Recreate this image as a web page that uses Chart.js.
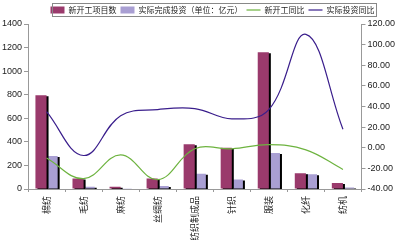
<!DOCTYPE html>
<html>
<head>
<meta charset="utf-8">
<script src="https://cdn.jsdelivr.net/npm/chart.js@4/dist/chart.umd.min.js"></script>
<style>
  html, body { margin: 0; padding: 0; background: #fff; }
  #wrap { width: 401px; height: 240px; }
</style>
</head>
<body>
<div id="wrap"><canvas id="chart" width="401" height="240"></canvas></div>
<script>
const categories = ['棉纺', '毛纺', '麻纺', '丝绸纺', '纺织制成品', '针织', '服装', '化纤', '纺机'];
const newProjects = [795, 90, 20, 90, 380, 350, 1160, 133, 50];
const investment = [280, 20, 3, 25, 130, 80, 305, 125, 12];
const newProjectsYoY = [-10, -30, -7, -31, -1, -1, 3, -2, -21];
const investmentYoY = [35, -7.5, 31, 37, 38, 28, 37, 110, 18];

const tickFont = { family: 'Liberation Sans, Arial, sans-serif', size: 9 };
const legendShift = 14;

// black shadow on the right side of each bar
const barShadow = {
  id: 'barShadow',
  beforeDatasetDraw(chart, args) {
    if (chart.data.datasets[args.index].type === 'bar') {
      const ctx = chart.ctx;
      ctx.save();
      ctx.shadowColor = '#000';
      ctx.shadowOffsetX = 2;
      ctx.shadowOffsetY = 1;
      ctx.shadowBlur = 0;
    }
  },
  afterDatasetDraw(chart, args) {
    if (chart.data.datasets[args.index].type === 'bar') chart.ctx.restore();
  }
};

// move the legend a little right and put a thin box round it
const legendBox = {
  id: 'legendBox',
  afterLayout(chart) {
    chart.legend.left += legendShift;
    chart.legend.right += legendShift;
  },
  afterDraw(chart) {
    const lg = chart.legend;
    const rowW = lg.lineWidths ? lg.lineWidths[0] : 0;
    const left = lg.left + (lg.width - rowW) / 2 + 3;
    const right = left + rowW - 4;
    const top = lg.top + 1;
    const bottom = top + 13;
    const ctx = chart.ctx;
    ctx.save();
    ctx.strokeStyle = '#888';
    ctx.lineWidth = 1;
    ctx.strokeRect(Math.round(left) + 0.5, Math.round(top) + 0.5, Math.round(right - left), Math.round(bottom - top));
    ctx.restore();
  }
};

new Chart(document.getElementById('chart'), {
  data: {
    labels: categories,
    datasets: [
      {
        type: 'bar', label: '新开工项目数', data: newProjects, yAxisID: 'y',
        backgroundColor: '#9A3A6C', pointStyle: 'rect', order: 2,
        barPercentage: 1, categoryPercentage: 0.6
      },
      {
        type: 'bar', label: '实际完成投资（单位：亿元）', data: investment, yAxisID: 'y',
        backgroundColor: '#A99FD3', pointStyle: 'rect', order: 2,
        barPercentage: 1, categoryPercentage: 0.6
      },
      {
        type: 'line', label: '新开工同比', data: newProjectsYoY, yAxisID: 'y1',
        borderColor: '#6DB33F', backgroundColor: '#6DB33F', borderWidth: 1.2,
        pointRadius: 0, tension: 0.4, pointStyle: 'line', order: 1
      },
      {
        type: 'line', label: '实际投资同比', data: investmentYoY, yAxisID: 'y1',
        borderColor: '#3A1E8C', backgroundColor: '#3A1E8C', borderWidth: 1.2,
        pointRadius: 0, tension: 0.4, pointStyle: 'line', order: 1
      }
    ]
  },
  options: {
    responsive: false,
    animation: false,
    layout: { padding: { left: 0, right: 4, top: 2, bottom: 0 } },
    plugins: {
      tooltip: { enabled: false },
      legend: {
        position: 'top',
        labels: {
          usePointStyle: true,
          pointStyleWidth: 14,
          boxHeight: 7,
          padding: 4,
          color: '#222',
          font: { family: 'Noto Sans CJK SC, sans-serif', size: 8 },
          sort: (a, b) => a.datasetIndex - b.datasetIndex
        }
      }
    },
    scales: {
      x: {
        grid: { display: true, drawOnChartArea: false, tickLength: 3, color: '#999' },
        border: { color: '#999' },
        ticks: {
          minRotation: 90, maxRotation: 90, padding: 4, color: '#222',
          font: { family: 'Noto Sans CJK SC, sans-serif', size: 9 }
        },
        afterFit(scale) { scale.height = 51; }
      },
      y: {
        position: 'left', min: 0, max: 1400,
        grid: { display: true, drawOnChartArea: false, tickLength: 4, color: '#999' },
        border: { color: '#999' },
        ticks: { stepSize: 200, color: '#222', font: tickFont, padding: 2,
          callback: v => String(v) }
      },
      y1: {
        position: 'right', min: -40, max: 120,
        grid: { display: true, drawOnChartArea: false, tickLength: 4, color: '#999' },
        border: { color: '#999' },
        ticks: { stepSize: 20, color: '#222', font: tickFont, padding: 2,
          callback: v => v.toFixed(2) }
      }
    }
  },
  plugins: [barShadow, legendBox]
});
</script>
</body>
</html>
